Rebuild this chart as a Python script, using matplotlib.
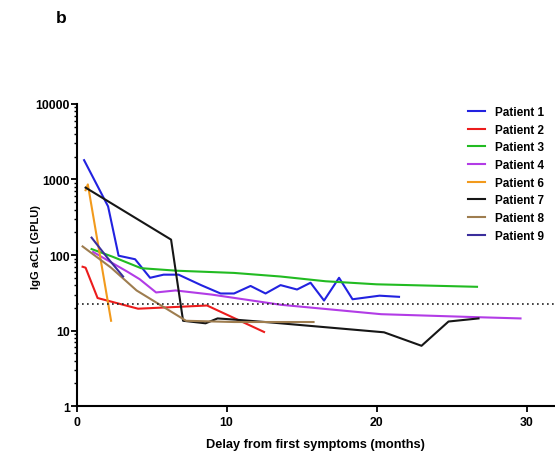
import matplotlib.pyplot as plt
from matplotlib.ticker import LogLocator, NullFormatter, FixedLocator

plt.rcParams['font.family'] = ['Liberation Sans', 'DejaVu Sans']
plt.rcParams['font.weight'] = 'bold'

# months since first symptoms / IgG aCL (GPLU)
p1_x = [0.5, 2.1, 2.8, 3.9, 4.9, 5.8, 6.8, 8.3, 9.6, 10.5, 11.6, 12.6, 13.6, 14.7, 15.6, 16.5, 17.5, 18.4, 20.2, 21.5]
p1_y = [1800, 440, 98, 88, 50, 55, 55, 40, 31, 31, 39, 31, 40, 35, 43, 25, 50, 26, 29, 28]
p2_x = [0.4, 0.6, 1.4, 4.1, 8.7, 12.5]
p2_y = [70, 68, 27, 19.5, 21.5, 9.6]
p3_x = [1.0, 2.4, 4.3, 6.7, 10.5, 13.6, 16.6, 20.0, 26.7]
p3_y = [120, 95, 67, 62, 58, 52, 45, 41, 38]
p4_x = [1.1, 2.4, 3.4, 4.2, 5.3, 6.6, 9.0, 13.6, 20.3, 27.0, 29.6]
p4_y = [110, 78, 60, 48, 32, 34, 30, 22, 16.5, 15, 14.5]
p6_x = [0.6, 0.75, 2.3]
p6_y = [720, 860, 13.5]
p7_x = [0.6, 6.3, 7.1, 8.6, 9.4, 10.5, 13.0, 20.5, 23.0, 24.8, 26.8]
p7_y = [780, 160, 13.5, 12.5, 14.5, 14, 12.8, 9.5, 6.3, 13.2, 14.5]
p8_x = [0.4, 2.3, 4.0, 7.3, 10.5, 15.8]
p8_y = [130, 68, 34, 13.5, 13, 13]
p9_x = [1.0, 2.0, 3.1]
p9_y = [170, 95, 52]

cutoff = 22.5

series = [
    ('Patient 1', p1_x, p1_y, '#2222e0'),
    ('Patient 2', p2_x, p2_y, '#ec1c1c'),
    ('Patient 3', p3_x, p3_y, '#22bb22'),
    ('Patient 4', p4_x, p4_y, '#b23ce6'),
    ('Patient 6', p6_x, p6_y, '#f29a1c'),
    ('Patient 7', p7_x, p7_y, '#161616'),
    ('Patient 8', p8_x, p8_y, '#9e7d4f'),
    ('Patient 9', p9_x, p9_y, '#3a2e9c'),
]

fig = plt.figure(figsize=(5.55, 4.56), dpi=100)
ax = fig.add_axes([0.138, 0.107, 0.862, 0.663])

for name, xs, ys, c in series:
    ax.plot(xs, ys, color=c, lw=1.5, label=name)

ax.axhline(cutoff, color='#222222', lw=1.2, ls=(0, (1, 2)))

ax.set_yscale('log')
ax.set_ylim(1, 10000)
ax.set_xlim(0, 31.9)
ax.xaxis.set_major_locator(FixedLocator([0, 10, 20, 30]))
ax.yaxis.set_major_locator(LogLocator(base=10, numticks=10))
ax.yaxis.set_minor_locator(LogLocator(base=10, subs=range(2, 10), numticks=10))
ax.yaxis.set_minor_formatter(NullFormatter())
ax.set_yticks([1, 10, 100, 1000, 10000])
ax.set_yticklabels(['1', '10', '100', '1000', '10000'])

for s in ['top', 'right']:
    ax.spines[s].set_visible(False)
for s in ['left', 'bottom']:
    ax.spines[s].set_linewidth(1.5)
ax.tick_params(which='major', length=4, width=1.3, labelsize=8.8, pad=1)
ax.tick_params(axis='x', which='major', pad=3)
ax.tick_params(which='minor', length=2.5, width=1.0)

ax.set_ylabel('IgG aCL (GPLU)', fontsize=8, fontweight='bold', labelpad=4)
ax.yaxis.set_label_coords(-0.075, 0.53)
ax.set_xlabel('Delay from first symptoms (months)', fontsize=9.2, fontweight='bold', labelpad=7)

ax.legend(loc='upper right', bbox_to_anchor=(1.0, 1.028), frameon=False, fontsize=8.5,
          handlelength=1.4, labelspacing=0.48, handletextpad=0.9)

fig.text(0.1, 0.975, 'b', fontsize=12.5, fontweight='bold', va='top')

fig.savefig('out.png', dpi=100)
